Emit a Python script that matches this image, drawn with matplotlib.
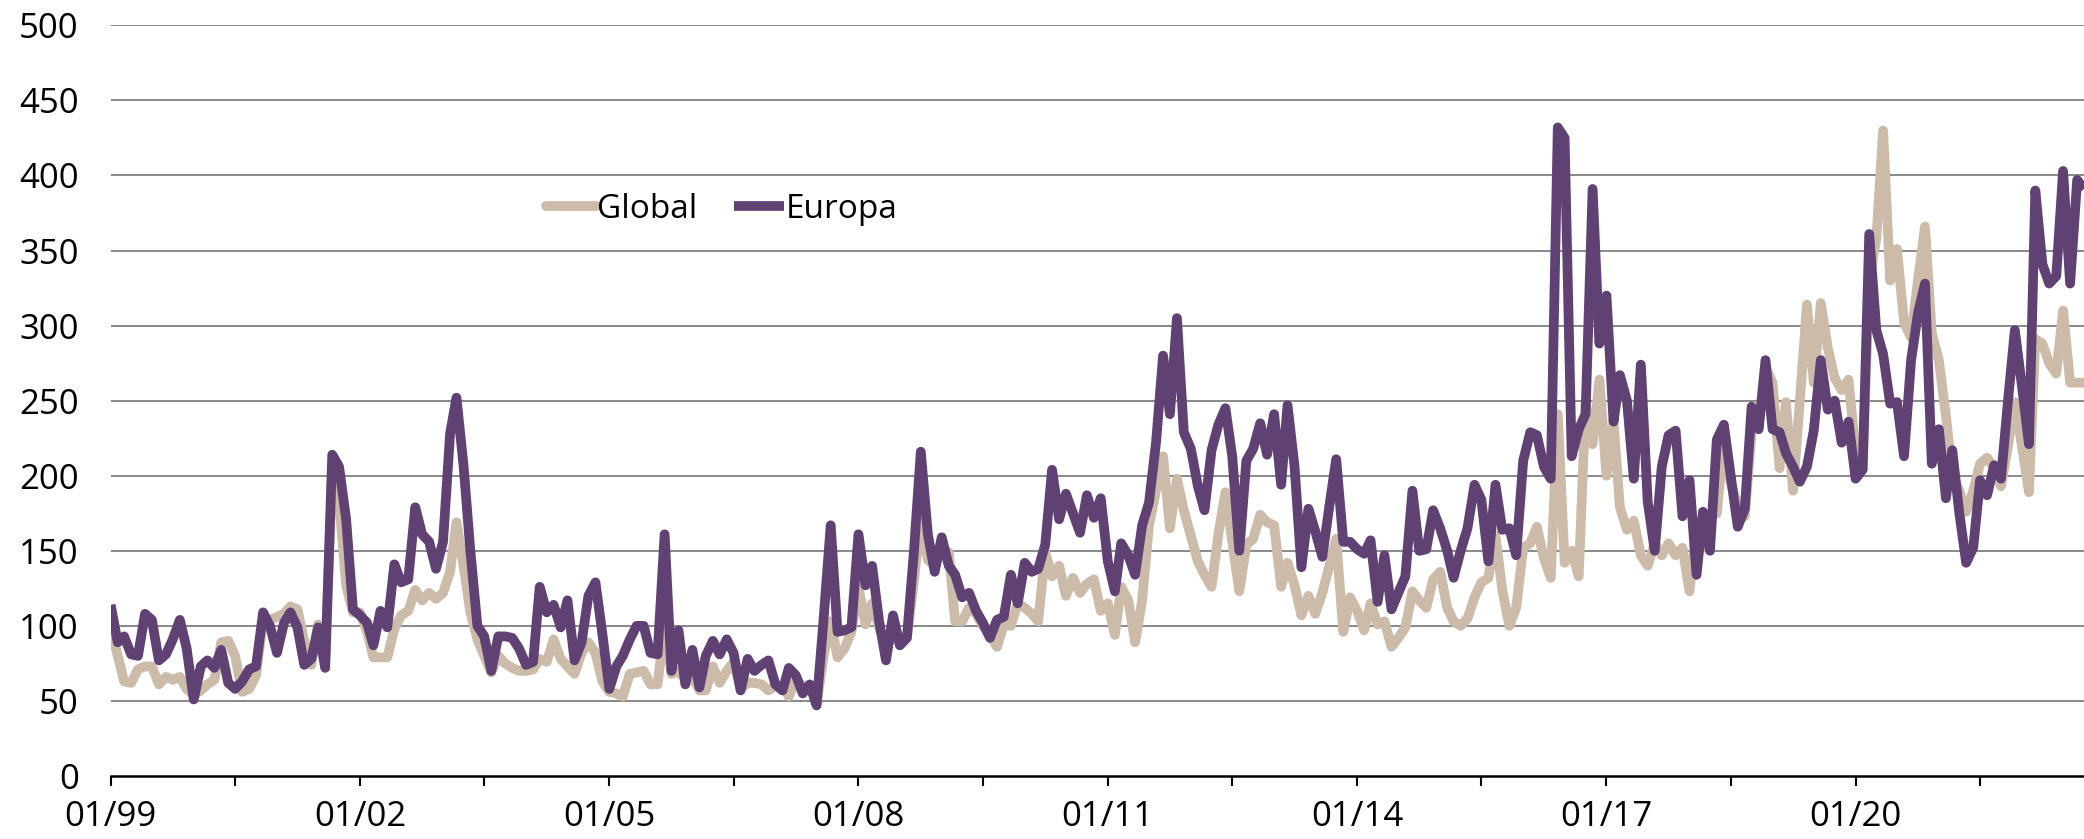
import matplotlib
matplotlib.use("Agg")
import matplotlib.pyplot as plt
import pandas as pd

plt.rcParams['font.family'] = ['Open Sans', 'DejaVu Sans']

# monthly values, 01/1999 - 10/2022
europa = [
    114, 89, 93, 81, 80, 108, 104, 77, 81, 91, 104, 85,        # 1999
    51, 73, 77, 72, 84, 62, 58, 63, 71, 73, 109, 100,          # 2000
    82, 102, 109, 99, 74, 78, 99, 72, 214, 206, 171, 111,      # 2001
    107, 102, 87, 110, 99, 141, 129, 131, 179, 161, 156, 138,  # 2002
    156, 228, 252, 207, 150, 100, 93, 70, 93, 93, 92, 85,      # 2003
    74, 76, 126, 109, 114, 99, 117, 77, 89, 120, 129, 95,      # 2004
    58, 73, 80, 91, 100, 100, 82, 81, 161, 70, 97, 61,         # 2005
    84, 59, 80, 90, 81, 91, 82, 57, 78, 70, 74, 77,            # 2006
    61, 57, 72, 67, 55, 61, 47, 105, 167, 96, 97, 99,          # 2007
    161, 127, 140, 103, 77, 107, 87, 92, 150, 216, 161, 136,   # 2008
    159, 140, 134, 119, 122, 110, 102, 92, 104, 106, 134, 115, # 2009
    142, 136, 138, 154, 204, 171, 188, 175, 162, 187, 172, 185,  # 2010
    143, 123, 155, 147, 134, 167, 182, 222, 280, 241, 305, 229,  # 2011
    218, 193, 177, 217, 234, 245, 213, 150, 210, 218, 235, 214,  # 2012
    241, 194, 247, 206, 139, 178, 163, 146, 180, 211, 156, 156,  # 2013
    151, 148, 157, 116, 147, 111, 122, 133, 190, 150, 151, 177,  # 2014
    165, 150, 132, 150, 165, 194, 184, 143, 194, 164, 165, 147,  # 2015
    210, 229, 227, 206, 198, 432, 425, 213, 231, 241, 391, 288,  # 2016
    320, 236, 267, 250, 198, 274, 183, 150, 206, 227, 230, 173,  # 2017
    197, 134, 176, 150, 224, 234, 200, 166, 178, 246, 231, 277,  # 2018
    231, 229, 215, 206, 196, 206, 230, 277, 244, 250, 222, 236,  # 2019
    198, 204, 361, 297, 281, 248, 249, 213, 277, 308, 328, 208,  # 2020
    231, 185, 217, 175, 142, 152, 197, 187, 207, 198, 250, 297,  # 2021
    260, 221, 390, 341, 328, 333, 403, 328, 397, 391,            # 2022
]

global_ = [
    99, 80, 63, 62, 71, 73, 73, 61, 66, 64, 66, 58,            # 1999
    54, 57, 61, 64, 89, 90, 80, 56, 58, 67, 104, 104,          # 2000
    106, 108, 113, 111, 90, 74, 101, 75, 205, 184, 127, 109,   # 2001
    109, 96, 79, 79, 79, 98, 107, 110, 124, 117, 122, 118,     # 2002
    122, 136, 169, 140, 109, 91, 80, 69, 80, 75, 72, 70,       # 2003
    70, 71, 78, 76, 91, 78, 73, 68, 82, 89, 82, 63,            # 2004
    56, 55, 53, 68, 69, 70, 61, 61, 100, 68, 70, 64,           # 2005
    66, 57, 57, 73, 62, 70, 76, 58, 62, 62, 61, 57,            # 2006
    60, 60, 53, 64, 60, 60, 48, 80, 103, 79, 85, 96,           # 2007
    126, 101, 115, 99, 85, 94, 89, 92, 130, 172, 144, 140,     # 2008
    150, 149, 103, 103, 112, 108, 100, 94, 86, 101, 100, 115,  # 2009
    112, 108, 103, 149, 133, 140, 120, 132, 122, 128, 131, 110,  # 2010
    115, 94, 126, 117, 89, 117, 167, 190, 213, 165, 198, 177,    # 2011
    160, 143, 134, 126, 161, 189, 156, 123, 154, 158, 174, 169,  # 2012
    167, 126, 142, 127, 107, 120, 108, 122, 140, 158, 96, 119,   # 2013
    110, 97, 115, 101, 103, 86, 92, 99, 123, 117, 112, 131,      # 2014
    136, 112, 103, 100, 105, 119, 129, 132, 160, 124, 100, 112,  # 2015
    152, 155, 166, 145, 132, 241, 142, 150, 133, 248, 221, 264,  # 2016
    200, 236, 179, 164, 170, 147, 140, 155, 147, 155, 147, 152,  # 2017
    123, 165, 152, 173, 175, 224, 195, 180, 173, 229, 234, 272,  # 2018
    262, 205, 249, 190, 250, 314, 262, 315, 285, 265, 257, 264,  # 2019
    215, 205, 330, 358, 430, 330, 351, 302, 292, 330, 366, 295,  # 2020
    277, 240, 201, 190, 176, 190, 208, 212, 205, 193, 220, 249,  # 2021
    220, 189, 291, 288, 275, 268, 310, 262, 262, 262,            # 2022
]

dates = pd.date_range("1999-01-01", periods=len(europa), freq="MS")

fig = plt.figure(figsize=(20.84, 8.39), dpi=100)
ax = fig.add_axes([0.0531, 0.0751, 0.9469, 0.8947])

ax.plot(dates, global_, color="#CDBBAA", lw=7, solid_joinstyle="round",
        solid_capstyle="round", label="Global")
ax.plot(dates, europa, color="#5F4173", lw=7, solid_joinstyle="round",
        solid_capstyle="butt", label="Europa")

ax.set_xlim(dates[0], dates[-1])
ax.set_ylim(0, 500)
ax.set_yticks(range(0, 501, 50))
ax.tick_params(axis="y", length=0, pad=23, labelsize=25)

xt = dates[::18]
ax.set_xticks(xt)
ax.set_xticklabels([d.strftime("%m/%y") if i % 2 == 0 else "" for i, d in enumerate(xt)])
ax.tick_params(axis="x", direction="out", length=7, width=1.5, pad=10, labelsize=25)

for v in range(50, 501, 50):
    ax.axhline(v, color="#808080", lw=1.3, zorder=0)

for s in ["top", "right", "left"]:
    ax.spines[s].set_visible(False)
ax.spines["bottom"].set_linewidth(1.8)

ax.legend(loc="center left", bbox_to_anchor=(0.212, 0.755), frameon=False,
          ncol=2, fontsize=24, handlelength=1.5, handletextpad=0.05,
          columnspacing=1.1, borderpad=0)

fig.savefig("out.png", dpi=100)
